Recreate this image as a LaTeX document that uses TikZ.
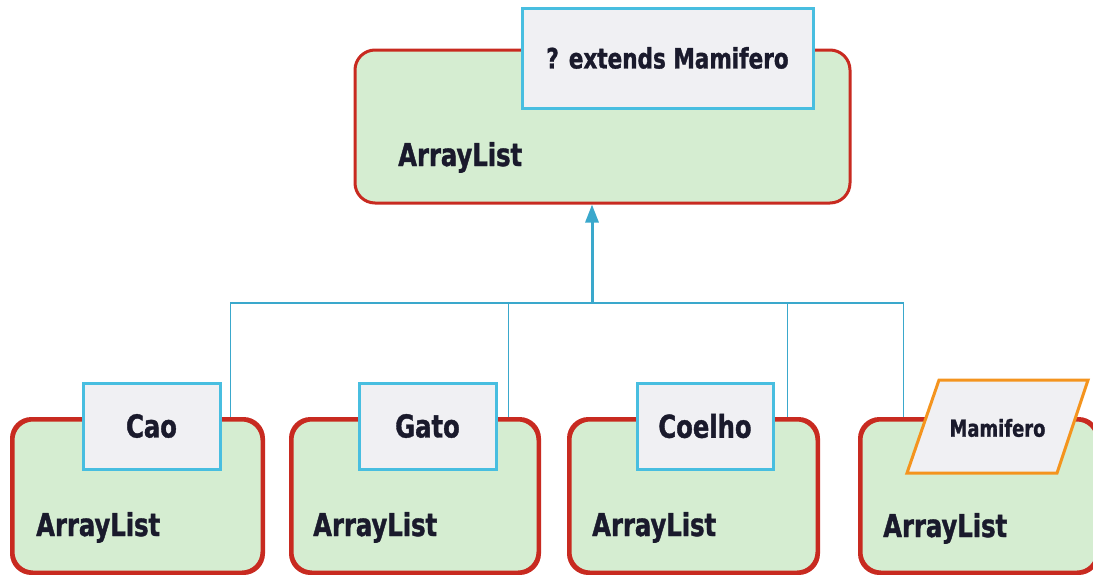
\documentclass[tikz,border=0pt]{standalone}
\usepackage{fontspec}
\usetikzlibrary{arrows.meta,calc}
\newfontfamily\lab{DejaVu Sans}[FakeStretch=0.77,FakeBold=1.2]
\definecolor{boxgreen}{RGB}{213,237,209}
\definecolor{boxred}{RGB}{200,42,32}
\definecolor{tagcyan}{RGB}{72,190,224}
\definecolor{tagfill}{RGB}{240,240,243}
\definecolor{tagorange}{RGB}{244,148,30}
\definecolor{linkblue}{RGB}{58,168,204}
\definecolor{ink}{RGB}{26,26,44}
\begin{document}
\begin{tikzpicture}[x=1pt,y=-1pt,
  listbox/.style={draw=boxred, fill=boxgreen, line width=3pt, rounded corners=20pt, inner sep=0pt},
  typetag/.style={draw=tagcyan, fill=tagfill, line width=3pt, inner sep=0pt,
    font=\lab\bfseries\fontsize{31.5}{36}\selectfont, text=ink},
  listlabel/.style={inner sep=0pt, anchor=base west, text=ink,
    font=\lab\bfseries\fontsize{31.5}{36}\selectfont},
  link/.style={draw=linkblue, line width=1.6pt},
  stem/.style={draw=linkblue, line width=3pt, -{Triangle[length=18pt,width=13pt]}}]
\useasboundingbox (0,0) rectangle (1093,574);

% hub where the branches meet
\coordinate (hub) at (592,303);

% generic list at the top
\node[listbox, minimum width=495pt, minimum height=153pt] (top) at (602.5,126.5) {};

% concrete lists at the bottom
\node[listbox, minimum width=249pt, minimum height=152pt] (cao) at (137.5,496) {};
\node[listbox, minimum width=246pt, minimum height=152pt] (gato) at (415,496) {};
\node[listbox, minimum width=247pt, minimum height=152pt] (coelho) at (693.5,496) {};
\node[listbox, minimum width=236pt, minimum height=152pt] (mam) at (979,496) {};

% connectors
\draw[link] (hub) -| ($(cao.north east)+(-33,0)$);
\draw[link] (hub) -| ($(gato.north east)+(-31,0)$);
\draw[link] (hub) -| ($(coelho.north east)+(-31,0)$);
\draw[link] (hub) -| ($(mam.north west)+(44,0)$);
\draw[stem] (hub) -- (hub |- top.south);

% redraw the box outlines over the connector ends
\foreach \b in {cao,gato,coelho,mam}
  \draw[draw=boxred, line width=3pt, rounded corners=20pt]
    (\b.south west) rectangle (\b.north east);

% type tags
\node[typetag, minimum width=291pt, minimum height=100pt,
  font=\lab\bfseries\fontsize{28}{32}\selectfont] (wild) at (667.5,58) {? extends Mamifero};
\node[typetag, minimum width=137pt, minimum height=86pt] (tcao) at (151.5,426) {Cao};
\node[typetag, minimum width=137pt, minimum height=86pt] (tgato) at (427.5,426) {Gato};
\node[typetag, minimum width=136pt, minimum height=86pt] (tcoelho) at (705,426) {Coelho};

% slanted tag for the bound type
\draw[draw=tagorange, fill=tagfill, line width=3pt, line join=miter]
  (939,380) -- (1088,380) -- (1057,473) -- (907,473) -- cycle;
\node[inner sep=0pt, text=ink, font=\lab\bfseries\fontsize{23.3}{28}\selectfont]
  (tmam) at (997.5,428) {Mamifero};

% list labels
\node[listlabel] (ltop) at (398,166) {ArrayList};
\node[listlabel] (lcao) at (36,536) {ArrayList};
\node[listlabel] (lgato) at (313,536) {ArrayList};
\node[listlabel] (lcoelho) at (592,536) {ArrayList};
\node[listlabel] (lmam) at (883,537) {ArrayList};
\end{tikzpicture}
\end{document}
